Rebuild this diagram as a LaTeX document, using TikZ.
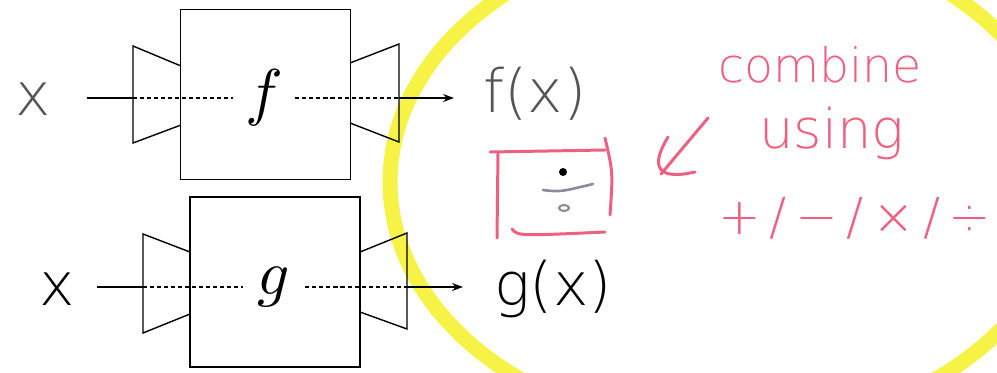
\documentclass[tikz,border=0pt]{standalone}
\usepackage{graphicx}
\usepackage{fontspec}
\usepackage{tikz}
\usetikzlibrary{arrows.meta, positioning}
\newfontfamily\handfont{DejaVu Sans ExtraLight}
\definecolor{hlyellow}{RGB}{246,243,70}
\definecolor{penpink}{RGB}{238,96,128}
\definecolor{pencilgray}{RGB}{140,140,158}
\definecolor{inkgray}{RGB}{85,85,85}
\newcommand{\bigsym}[1]{\scalebox{3.6}{$#1$}}

\begin{document}
\begin{tikzpicture}[
      x=0.02cm, y=-0.02cm,
      blk/.style={draw, rectangle, minimum width=3.4cm, minimum height=3.4cm, line width=0.8pt},
      fn/.style={inner sep=0pt, minimum width=1.24cm},
      trap/.style={line width=0.8pt},
      wire/.style={line width=0.7pt},
      dwire/.style={line width=0.7pt, dash pattern=on 2.3pt off 1.7pt},
      arr/.style={-{Stealth[length=2.2mm,width=1.6mm]}, line width=0.7pt},
      hand/.style={inner sep=0pt, font=\handfont\fontsize{34}{38}\selectfont},
      note/.style={inner sep=0pt, text=penpink, font=\handfont\fontsize{27}{30}\selectfont},
      pen/.style={draw=penpink, line width=1.7pt, line cap=round},
    ]

    \useasboundingbox (0,0) rectangle (997,372);
    \clip (0,0) rectangle (997,372);

    % highlighter ring
    \draw[hlyellow, line width=0.3cm] (728,182) ellipse[x radius=6.76cm, y radius=5cm];

    % block f
    \node[blk] (fbox) at (265.5,94.5) {};
    \node[fn] (flab) at (264,98) {\bigsym{f}};
    \draw[trap] (181,66) -- (133,46) -- (133,143) -- (181,125);
    \draw[trap] (350,63) -- (399,44) -- (399,142) -- (350,123);
    \coordinate (fin) at (87,98);
    \coordinate (fa) at (133,98);
    \coordinate (fb) at (399,98);
    \coordinate (fout) at (454,98);

    % block g
    \node[blk] (gbox) at (275,282) {};
    \node[fn] (glab) at (274,287) {\bigsym{g}};
    \draw[trap] (190,252) -- (143,234) -- (143,333) -- (190,314);
    \draw[trap] (360,252) -- (407,233) -- (407,329) -- (360,312);
    \coordinate (gin) at (97,287);
    \coordinate (ga) at (143,287);
    \coordinate (gb) at (407,287);
    \coordinate (gout) at (463,287);

    \draw[wire] (fin) -- (fa);
    \draw[dwire] (fa) -- (flab.west);
    \draw[dwire] (flab.east) -- (fb);
    \draw[arr] (fb) -- (fout);

    \draw[wire] (gin) -- (ga);
    \draw[dwire] (ga) -- (glab.west);
    \draw[dwire] (glab.east) -- (gb);
    \draw[arr] (gb) -- (gout);

    % handwritten labels
    \node[hand, text=inkgray] (xf) at (33,99) {x};
    \node[hand] (xg) at (57,289) {x};
    \node[hand, text=inkgray, anchor=base] (fx) at (535,112) {f(x)};
    \node[hand, anchor=base] (gx) at (553,305) {g(x)};

    % operator box
    \draw[pen] (490,152) -- (605,150);
    \draw[pen] (498,153) -- (497,238);
    \draw[pen] (605,138) .. controls (613,172) .. (610,215);
    \draw[pen] (512,229) .. controls (518,236) .. (605,232);
    \fill (563,172) circle[radius=4];
    \draw[pencilgray, line width=1.5pt, line cap=round] (543,190) .. controls (560,192) .. (593,184);
    \draw[pencilgray, line width=1.2pt] (564,208) ellipse[x radius=5, y radius=3];

    % note
    \node[note, anchor=base] (comb) at (820,82) {combine};
    \node[note, anchor=base, font=\handfont\fontsize{31}{34}\selectfont] (using) at (832,148) {using};
    \node[note, font=\handfont\fontsize{29}{32}\selectfont] (ops) at (855,218) {+\,/\,−\,/\,×\,/\,÷};
    \coordinate (ptail) at (708,118);
    \coordinate (ptip) at (661,174);
    \draw[pen] (ptail) -- (ptip);
    \draw[pen] (668,137) .. controls (654,160) and (650,182) .. (695,172);

  \end{tikzpicture}
\end{document}
